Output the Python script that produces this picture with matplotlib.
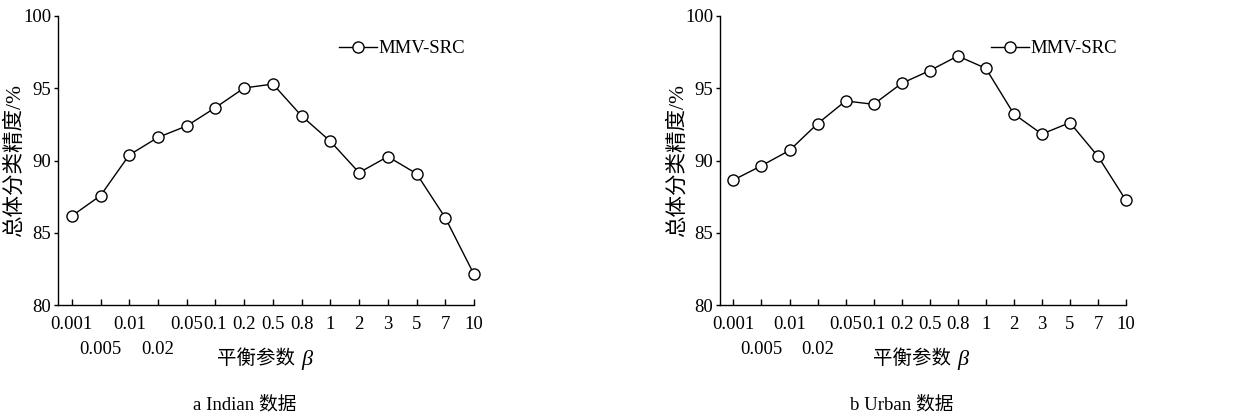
import matplotlib
matplotlib.use("Agg")
import matplotlib.pyplot as plt

plt.rcParams['font.family'] = ['Liberation Serif', 'Noto Sans CJK SC']

beta_labels = ["0.001", "0.005", "0.01", "0.02", "0.05", "0.1", "0.2", "0.5",
               "0.8", "1", "2", "3", "5", "7", "10"]
indian_acc = [86.16, 87.57, 90.38, 91.60, 92.39, 93.66, 95.02, 95.29,
              93.08, 91.33, 89.16, 90.27, 89.09, 86.04, 82.12]
urban_acc = [88.65, 89.64, 90.70, 92.55, 94.12, 93.89, 95.34, 96.22,
             97.23, 96.38, 93.22, 91.83, 92.62, 90.29, 87.24]
captions = ["a Indian 数据", "b Urban 数据"]

fig = plt.figure(figsize=(12.35, 4.16), dpi=100)
ax1 = fig.add_axes([58 / 1235, 1 - 305 / 416, (474 - 58) / 1235, 289 / 416])
ax2 = fig.add_axes([720 / 1235, 1 - 305 / 416, (1126 - 720) / 1235, 289 / 416])

# 0.005 and 0.02 sit on a second row
low_row = [1, 3]
xs = list(range(len(beta_labels)))
top_row = [i for i in xs if i not in low_row]

for ax, vals, cap in [(ax1, indian_acc, captions[0]), (ax2, urban_acc, captions[1])]:
    ax.plot(xs, vals, color='black', linewidth=1.0, marker='o', markersize=8,
            markerfacecolor='white', markeredgecolor='black', markeredgewidth=1.0,
            clip_on=False, label="MMV-SRC")
    ax.set_xlim(-0.48, 14)
    ax.set_ylim(80, 100)
    ax.set_yticks([80, 85, 90, 95, 100])
    ax.set_xticks(top_row)
    ax.set_xticklabels([beta_labels[i] for i in top_row])
    ax.set_xticks(low_row, minor=True)
    ax.set_xticklabels([beta_labels[i] for i in low_row], minor=True)
    ax.tick_params(axis='x', which='major', direction='in', length=4, width=1,
                   pad=8, labelsize=13.5)
    ax.tick_params(axis='x', which='minor', direction='in', length=4, width=1,
                   pad=26, labelsize=13.5)
    ax.tick_params(axis='y', direction='out', length=3, width=1, pad=2, labelsize=13.5)
    ax.spines['top'].set_visible(False)
    ax.spines['right'].set_visible(False)
    ax.spines['left'].set_linewidth(1)
    ax.spines['bottom'].set_linewidth(1)
    ax.set_ylabel("总体分类精度/%", fontsize=15.5)
    ax.yaxis.set_label_coords(-0.08, 0.5)
    # x label: Chinese part plus italic beta
    ax.text(0.5 + 0.07, -0.185, "平衡参数", transform=ax.transAxes, ha='right',
            va='center', fontsize=14)
    ax.text(0.5 + 0.085, -0.19, "β", transform=ax.transAxes, ha='left',
            va='center', fontsize=16, style='italic')
    ax.legend(loc='upper right', bbox_to_anchor=(1.02, 0.975), frameon=False,
              fontsize=13.5, handlelength=2.0, handletextpad=0.1)
    bb = ax.get_position()
    fig.text((bb.x0 + bb.x1) / 2 - 21 / 1235, 1 - 405 / 416, cap, ha='center',
             va='center', fontsize=13.5)

fig.savefig("out.png", dpi=100)
